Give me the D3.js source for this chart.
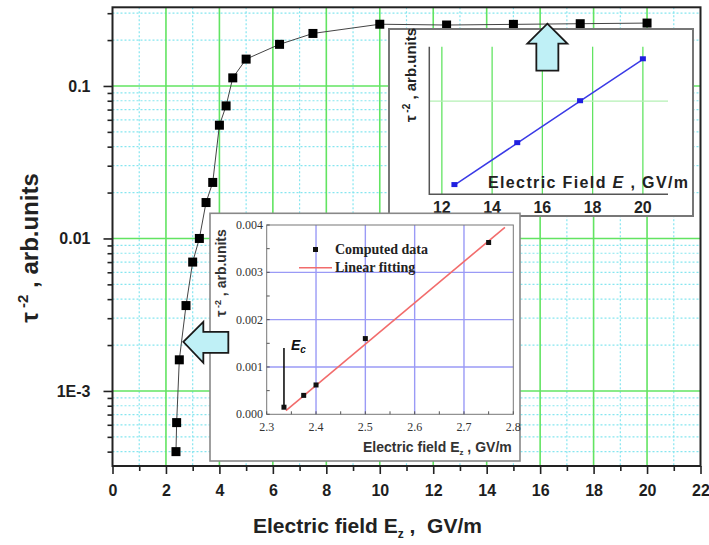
<!DOCTYPE html>
<html>
<head>
<meta charset="utf-8">
<script src="https://cdn.jsdelivr.net/npm/d3@7"></script>
<style>
  html, body { margin: 0; padding: 0; background: #fff; }
  svg { display: block; }
  text { white-space: pre; }
</style>
</head>
<body>
<svg id="chart" width="709" height="545"></svg>
<script>
// ---- data -------------------------------------------------------------
// main curve: inverse squared relaxation time vs. electric field
const fieldE = [2.375, 2.4, 2.5, 2.75, 3, 3.25, 3.5, 3.75, 4, 4.25, 4.5, 5, 6.25, 7.5, 10, 12.5, 15, 17.5, 20];
const tauInv2 = [0.0004, 0.00062, 0.0016, 0.00363, 0.007, 0.01, 0.0172, 0.0233, 0.0553, 0.074, 0.113, 0.15, 0.1875, 0.221, 0.254, 0.251, 0.2535, 0.256, 0.2585];

// high-field region (upper inset)
const highE = [12.5, 15, 17.5, 20];
const highTau = [0.251, 0.2535, 0.256, 0.2585];

// near-threshold region (lower inset)
const lowE = [2.335, 2.375, 2.4, 2.5, 2.75];
const lowTau = [0.00015, 0.0004, 0.00062, 0.0016, 0.00363];
const fitSlope = 0.00873;       // linear fit: tau^-2 = slope * (E - E0)
const fitE0 = 2.3303;
const fitRange = [2.339, 2.783];
const criticalE = 2.335;

// tick labels
const xTicks = [0, 2, 4, 6, 8, 10, 12, 14, 16, 18, 20, 22];
const xMinorTicks = [1, 3, 5, 7, 9, 11, 13, 15, 17, 19, 21];
const yTicks = [1e-3, 1e-2, 1e-1];
const yTickLabels = ["1E-3", "0.01", "0.1"];
const highTicks = [12, 14, 16, 18, 20];
const lowXTicks = [2.3, 2.4, 2.5, 2.6, 2.7, 2.8];
const lowYTicks = [0, 0.001, 0.002, 0.003, 0.004];
const lowYTickLabels = ["0.000", "0.001", "0.002", "0.003", "0.004"];

// ---- setup ------------------------------------------------------------
const svg = d3.select("#chart");
svg.append("rect").attr("width", 709).attr("height", 545).attr("fill", "#fff");

const SANS = "'Liberation Sans', Arial, sans-serif";
const SERIF = "'Liberation Serif', 'Times New Roman', serif";
const GREEN = "#62e462";
const CYAN = "#86e6f0";

const x = d3.scaleLinear().domain([0, 22]).range([112.5, 700.5]);
const y = d3.scaleLog().domain([3.22e-4, 0.328]).range([466, 7.3]);
const [px0, px1] = x.range();
const [py0, py1] = y.range();

// ---- main grid ----------------------------------------------------------
const yMinor = [];
for (let k = -4; k <= -1; k++) {
  for (let m = 2; m <= 9; m++) {
    const v = m * Math.pow(10, k);
    if (v > y.domain()[0] && v < y.domain()[1]) yMinor.push(v);
  }
}
const grid = svg.append("g");
grid.selectAll(".ymin").data(yMinor).join("line")
  .attr("x1", px0).attr("x2", px1).attr("y1", d => y(d)).attr("y2", d => y(d))
  .attr("stroke", CYAN).attr("stroke-width", 1.2).attr("stroke-dasharray", "2,2");
grid.selectAll(".xmin").data(xMinorTicks).join("line")
  .attr("x1", d => x(d)).attr("x2", d => x(d)).attr("y1", py1).attr("y2", py0)
  .attr("stroke", CYAN).attr("stroke-width", 1.2).attr("stroke-dasharray", "2,2");
grid.selectAll(".ymaj").data(yTicks).join("line")
  .attr("x1", px0).attr("x2", px1).attr("y1", d => y(d)).attr("y2", d => y(d))
  .attr("stroke", GREEN).attr("stroke-width", 1.6);
grid.selectAll(".xmaj").data(xTicks.slice(1, -1)).join("line")
  .attr("x1", d => x(d)).attr("x2", d => x(d)).attr("y1", py1).attr("y2", py0)
  .attr("stroke", GREEN).attr("stroke-width", 1.6);

// ---- main curve -------------------------------------------------------
const mainPts = fieldE.map((e, i) => [e, tauInv2[i]]);
svg.append("path").datum(mainPts)
  .attr("fill", "none").attr("stroke", "#444").attr("stroke-width", 1)
  .attr("d", d3.line().x(d => x(d[0])).y(d => y(d[1])));
svg.append("g").selectAll("rect").data(mainPts).join("rect")
  .attr("x", d => x(d[0]) - 4.5).attr("y", d => y(d[1]) - 4.5)
  .attr("width", 9).attr("height", 9).attr("fill", "#000");

// ---- main axes --------------------------------------------------------
function styleAxis(g, size) {
  g.select(".domain").remove();
  g.selectAll(".tick line").attr("stroke", "#222").attr("stroke-width", 1.6);
  g.selectAll(".tick text").attr("fill", "#1e1e1e")
    .style("font-family", SANS).style("font-weight", "bold").style("font-size", size + "px");
}
svg.append("g").attr("transform", `translate(0,${py0})`)
  .call(d3.axisBottom(x).tickValues(xMinorTicks).tickSize(5).tickFormat(""))
  .call(g => styleAxis(g, 16));
svg.append("g").attr("transform", `translate(0,${py0})`)
  .call(d3.axisBottom(x).tickValues(xTicks).tickSize(8).tickPadding(11).tickFormat(d3.format("d")))
  .call(g => styleAxis(g, 16));
svg.append("g").attr("transform", `translate(${px0},0)`)
  .call(d3.axisLeft(y).tickValues(yMinor).tickSize(5).tickFormat(""))
  .call(g => styleAxis(g, 16));
svg.append("g").attr("transform", `translate(${px0},0)`)
  .call(d3.axisLeft(y).tickValues(yTicks).tickSize(9).tickPadding(13)
    .tickFormat((d, i) => yTickLabels[i]))
  .call(g => styleAxis(g, 16));

svg.append("rect").attr("x", px0).attr("y", py1)
  .attr("width", px1 - px0).attr("height", py0 - py1)
  .attr("fill", "none").attr("stroke", "#222").attr("stroke-width", 2);

// main axis titles
const xt = svg.append("text").attr("x", 253).attr("y", 533)
  .style("font-family", SANS).style("font-weight", "bold").style("font-size", "21px").attr("fill", "#222");
xt.append("tspan").text("Electric field E");
xt.append("tspan").attr("dy", 5).style("font-size", "12px").text("z");
xt.append("tspan").attr("dy", -5).text(" ,  GV/m");

const yt = svg.append("text").attr("transform", "translate(38,248) rotate(-90)")
  .attr("text-anchor", "middle")
  .style("font-family", SANS).style("font-weight", "bold").style("font-size", "24px").attr("fill", "#222");
yt.append("tspan").text("τ");
yt.append("tspan").attr("dy", -10).style("font-size", "15px").text(" -2");
yt.append("tspan").attr("dy", 10).text(" , arb.units");

// ---- upper inset: high-field linear region -----------------------------
const hi = svg.append("g");
hi.append("rect").attr("x", 389).attr("y", 29).attr("width", 304).attr("height", 187)
  .attr("fill", "#fff").attr("stroke", "#777").attr("stroke-width", 2);
const xh = d3.scaleLinear().domain([11.5, 21]).range([429.3, 668]);
const yh = d3.scaleLinear().domain([0.25045, 0.25925]).range([194.3, 46.7]);
hi.selectAll(".gv").data(highTicks).join("line")
  .attr("x1", d => xh(d)).attr("x2", d => xh(d)).attr("y1", yh.range()[1]).attr("y2", yh.range()[0])
  .attr("stroke", GREEN).attr("stroke-width", 1.3);
hi.append("line").attr("x1", xh.range()[0]).attr("x2", xh.range()[1])
  .attr("y1", yh(0.256)).attr("y2", yh(0.256))
  .attr("stroke", "#b4f0b4").attr("stroke-width", 1.3);
hi.append("path")
  .attr("d", `M${xh.range()[0]},${yh.range()[1]}V${yh.range()[0]}H${xh.range()[1]}`)
  .attr("fill", "none").attr("stroke", "#555").attr("stroke-width", 1.5);
const hiPts = highE.map((e, i) => [e, highTau[i]]);
hi.append("path").datum(hiPts).attr("fill", "none").attr("stroke", "#3a3ae6").attr("stroke-width", 1.5)
  .attr("d", d3.line().x(d => xh(d[0])).y(d => yh(d[1])));
hi.selectAll(".hp").data(hiPts).join("rect")
  .attr("x", d => xh(d[0]) - 3).attr("y", d => yh(d[1]) - 3)
  .attr("width", 6).attr("height", 5).attr("fill", "#1f1fe0");
hi.selectAll(".ht").data(highTicks).join("text")
  .attr("x", d => xh(d)).attr("y", 213).attr("text-anchor", "middle")
  .style("font-family", SANS).style("font-weight", "bold").style("font-size", "16px").attr("fill", "#222")
  .text(d => d);
const hx = hi.append("text").attr("x", 488).attr("y", 188).attr("textLength", 200).attr("lengthAdjust", "spacing")
  .style("font-family", SANS).style("font-weight", "bold").style("font-size", "16px").attr("fill", "#222");
hx.append("tspan").text("Electric Field ");
hx.append("tspan").style("font-style", "italic").text("E");
hx.append("tspan").text(" , GV/m");
const hy = hi.append("text").attr("transform", "translate(416,75) rotate(-90)").attr("text-anchor", "middle")
  .style("font-family", SANS).style("font-weight", "bold").style("font-size", "15px").attr("fill", "#222");
hy.append("tspan").text("τ");
hy.append("tspan").attr("dy", -6).style("font-size", "10px").text(" -2");
hy.append("tspan").attr("dy", 6).text(" , arb.units");

// ---- lower inset: near-threshold region --------------------------------
const lo = svg.append("g");
lo.append("rect").attr("x", 210).attr("y", 213.3).attr("width", 310).attr("height", 247.7)
  .attr("fill", "#fff").attr("stroke", "#888").attr("stroke-width", 1.6);
const xl = d3.scaleLinear().domain([2.3, 2.8]).range([266.7, 513.3]);
const yl = d3.scaleLinear().domain([0, 0.004]).range([414.3, 225]);
const BLUE = "#9a9af6";
lo.selectAll(".lgx").data(lowXTicks.slice(1, -1)).join("line")
  .attr("x1", d => xl(d)).attr("x2", d => xl(d)).attr("y1", yl.range()[1]).attr("y2", yl.range()[0])
  .attr("stroke", BLUE).attr("stroke-width", 1.4);
lo.selectAll(".lgy").data(lowYTicks.slice(1, -1)).join("line")
  .attr("x1", xl.range()[0]).attr("x2", xl.range()[1]).attr("y1", d => yl(d)).attr("y2", d => yl(d))
  .attr("stroke", BLUE).attr("stroke-width", 1.4);
lo.append("rect").attr("x", xl.range()[0]).attr("y", yl.range()[1])
  .attr("width", xl.range()[1] - xl.range()[0]).attr("height", yl.range()[0] - yl.range()[1])
  .attr("fill", "none").attr("stroke", "#777").attr("stroke-width", 1);
// inward ticks
lo.selectAll(".ltx").data(d3.range(2.3, 2.801, 0.05)).join("line")
  .attr("x1", d => xl(d)).attr("x2", d => xl(d)).attr("y1", yl.range()[0]).attr("y2", yl.range()[0] - 3)
  .attr("stroke", "#555").attr("stroke-width", 1);
lo.selectAll(".lty").data(d3.range(0, 0.00401, 0.0005)).join("line")
  .attr("x1", xl.range()[0]).attr("x2", xl.range()[0] + 3).attr("y1", d => yl(d)).attr("y2", d => yl(d))
  .attr("stroke", "#555").attr("stroke-width", 1);
lo.selectAll(".lxl").data(lowXTicks).join("text")
  .attr("x", d => xl(d)).attr("y", 431).attr("text-anchor", "middle")
  .style("font-family", SERIF).style("font-size", "12px").attr("fill", "#333")
  .text(d => d.toFixed(1));
lo.selectAll(".lyl").data(lowYTicks).join("text")
  .attr("x", 263).attr("y", d => yl(d) + 4).attr("text-anchor", "end")
  .style("font-family", SERIF).style("font-size", "12px").attr("fill", "#333")
  .text((d, i) => lowYTickLabels[i]);
// linear fit
lo.append("line")
  .attr("x1", xl(fitRange[0])).attr("y1", yl(fitSlope * (fitRange[0] - fitE0)))
  .attr("x2", xl(fitRange[1])).attr("y2", yl(fitSlope * (fitRange[1] - fitE0)))
  .attr("stroke", "#f26c6c").attr("stroke-width", 1.6);
const loPts = lowE.map((e, i) => [e, lowTau[i]]);
lo.selectAll(".lp").data(loPts).join("rect")
  .attr("x", d => xl(d[0]) - 2.5).attr("y", d => yl(d[1]) - 2.5)
  .attr("width", 5).attr("height", 5).attr("fill", "#111");
// critical field marker
lo.append("line").attr("x1", xl(criticalE)).attr("x2", xl(criticalE))
  .attr("y1", 348).attr("y2", yl(lowTau[0]))
  .attr("stroke", "#111").attr("stroke-width", 1.6);
const ec = lo.append("text").attr("x", 291).attr("y", 350)
  .style("font-family", SANS).style("font-weight", "bold").style("font-style", "italic")
  .style("font-size", "14px").attr("fill", "#111");
ec.append("tspan").text("E");
ec.append("tspan").attr("dy", 3).style("font-size", "10px").text("c");
// legend
lo.append("rect").attr("x", 313).attr("y", 247).attr("width", 5).attr("height", 5).attr("fill", "#111");
lo.append("text").attr("x", 335).attr("y", 254)
  .style("font-family", SERIF).style("font-weight", "bold").style("font-size", "14px").attr("fill", "#222")
  .text("Computed data");
lo.append("line").attr("x1", 299).attr("x2", 332).attr("y1", 267.7).attr("y2", 267.7)
  .attr("stroke", "#f26c6c").attr("stroke-width", 1.6);
lo.append("text").attr("x", 335).attr("y", 272)
  .style("font-family", SERIF).style("font-weight", "bold").style("font-size", "14px").attr("fill", "#222")
  .text("Linear fitting");
// inset axis titles
const lx = lo.append("text").attr("x", 363).attr("y", 452)
  .style("font-family", SANS).style("font-weight", "bold").style("font-size", "14px").attr("fill", "#333");
lx.append("tspan").text("Electric field E");
lx.append("tspan").attr("dy", 3).style("font-size", "8px").text("z");
lx.append("tspan").attr("dy", -3).text(" , GV/m");
const ly = lo.append("text").attr("transform", "translate(226,273) rotate(-90)").attr("text-anchor", "middle")
  .style("font-family", SANS).style("font-weight", "bold").style("font-size", "14px").attr("fill", "#333");
ly.append("tspan").text("τ");
ly.append("tspan").attr("dy", -5).style("font-size", "9px").text(" -2");
ly.append("tspan").attr("dy", 5).text(" , arb.units");

// ---- pointer arrows ------------------------------------------------------
const ARROW_FILL = "#bff0f6";
// up arrow toward the saturated high-field points
const upTip = [x(16.27), y(0.256)];
svg.append("path")
  .attr("d", `M${upTip[0]},${upTip[1]} l20,20 h-9 v27 h-22 v-27 h-9 z`)
  .attr("fill", ARROW_FILL).attr("stroke", "#1a1a1a").attr("stroke-width", 1.8).attr("stroke-linejoin", "miter");
// left arrow toward the threshold region of the curve
const leftTip = [x(2.65), y(0.0021)];
svg.append("path")
  .attr("d", `M${leftTip[0]},${leftTip[1]} l20,-20 v10 h25 v21 h-25 v10 z`)
  .attr("fill", ARROW_FILL).attr("stroke", "#1a1a1a").attr("stroke-width", 1.8).attr("stroke-linejoin", "miter");
</script>
</body>
</html>
